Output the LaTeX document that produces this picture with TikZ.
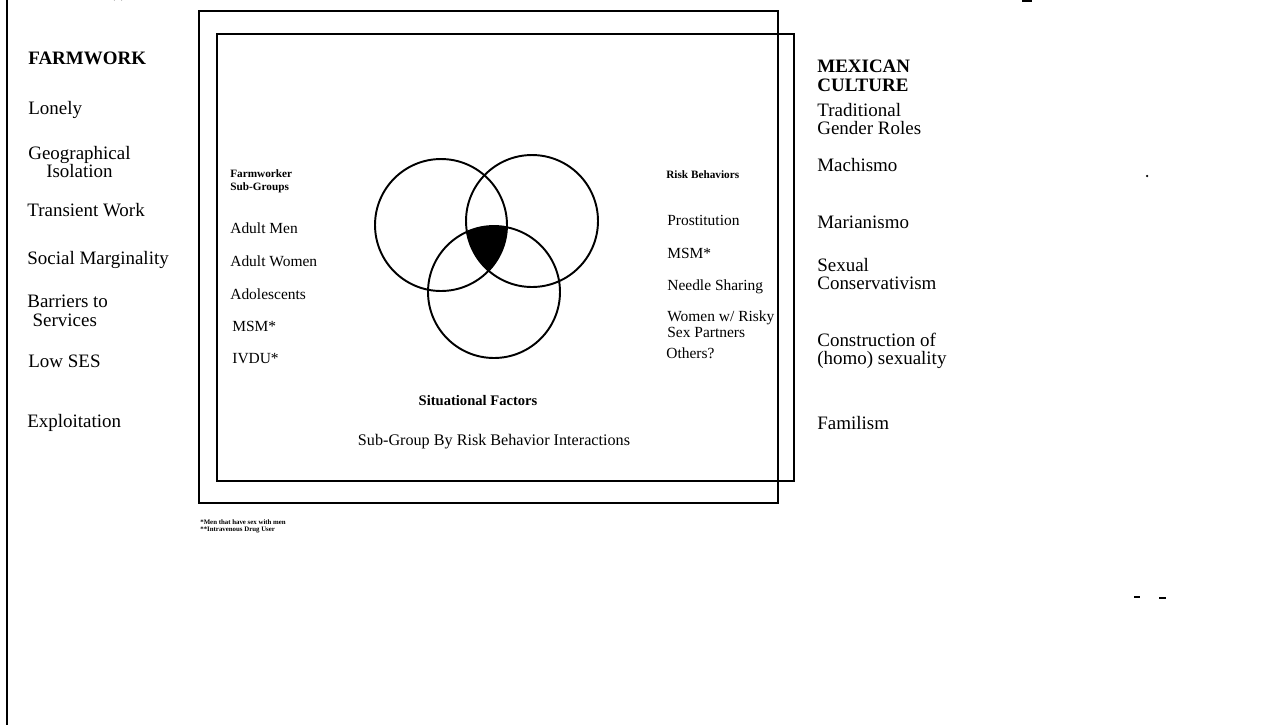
\documentclass[tikz,border=0pt]{standalone}
\usepackage{fontspec}
\setmainfont{Liberation Serif}
\begin{document}
\begin{tikzpicture}[x=0.02cm,y=-0.02cm,
  frame/.style={line width=1.3pt},
  venn/.style={line width=1.1pt},
  col/.style={anchor=west,inner sep=0pt,align=left,font=\fontsize{10.8}{10.6}\selectfont},
  colb/.style={col,font=\fontsize{10.8}{10.6}\selectfont\bfseries},
  itm/.style={anchor=west,inner sep=0pt,align=left,font=\fontsize{8.8}{8.8}\selectfont},
  hdr/.style={anchor=west,inner sep=0pt,align=left,font=\fontsize{6.4}{7.4}\selectfont\bfseries},
  fn/.style={anchor=west,inner sep=0pt,align=left,font=\fontsize{3.9}{4.6}\selectfont\bfseries}]
\useasboundingbox (0,0) rectangle (1270,725);
% left border line
\draw[line width=1.6pt] (7,0) -- (7,725);
% boxes
\draw[frame] (199,11) rectangle (778,503);
\draw[frame] (217,34) rectangle (794,481);
% Venn
\coordinate (cA) at (441,225);
\coordinate (cB) at (532,221);
\coordinate (cC) at (494,292);
\begin{scope}
  \clip (cA) circle (1.32cm);
  \clip (cB) circle (1.32cm);
  \fill (cC) circle (1.32cm);
\end{scope}
\draw[venn] (cA) circle (1.32cm);
\draw[venn] (cB) circle (1.32cm);
\draw[venn] (cC) circle (1.32cm);
% left column
\node[colb] (farm) at (28,58) {FARMWORK};
\node[col] (l1) at (28,110) {Lonely};
\node[col,align=center] (l2) at (28,162) {Geographical\\Isolation};
\node[col] (l3) at (27,210) {Transient Work};
\node[col] (l4) at (27,260) {Social Marginality};
\node[col] (l5) at (27,311) {Barriers to\\\hspace*{3pt}Services};
\node[col] (l6) at (28,361) {Low SES};
\node[col] (l7) at (27,423) {Exploitation};
% right column
\node[colb] (mex) at (817,76) {MEXICAN\\CULTURE};
\node[col] (r1) at (817,119) {Traditional\\Gender Roles};
\node[col] (r2) at (817,165) {Machismo};
\node[col] (r3) at (817,222) {Marianismo};
\node[col] (r4) at (817,274) {Sexual\\Conservativism};
\node[col] (r5) at (817,351) {Construction of\\(homo) sexuality};
\node[col] (r6) at (817,423) {Familism};
% inner left
\node[hdr] (fw) at (230,181) {Farmworker\\Sub-Groups};
\node[itm] (g1) at (230,228) {Adult Men};
\node[itm] (g2) at (230,261) {Adult Women};
\node[itm] (g3) at (230,294) {Adolescents};
\node[itm] (g4) at (232,326) {MSM*};
\node[itm] (g5) at (232,359) {IVDU*};
% inner right
\node[hdr] (rb) at (666,175) {Risk Behaviors};
\node[itm] (b1) at (667,220) {Prostitution};
\node[itm] (b2) at (667,253) {MSM*};
\node[itm] (b3) at (667,287) {Needle Sharing};
\node[itm] (b4) at (667,324) {Women w/ Risky\\Sex Partners};
\node[itm] (b5) at (666,353) {Others?};
% center labels
\node[hdr,anchor=center,font=\fontsize{8.3}{9}\selectfont\bfseries] (sf) at (478,401) {Situational Factors};
\node[itm,anchor=center,font=\fontsize{9.2}{9}\selectfont] (sg) at (494,442) {Sub-Group By Risk Behavior Interactions};
% footnotes
\node[fn] (f1) at (200,522) {*Men that have sex with men};
\node[fn] (f2) at (200,530) {**Intravenous Drug User};
% scan specks
\draw[line width=0.8pt] (114,0) arc (180:360:4 and 3);
\fill (1022,0) rectangle (1032,2);
\fill (1147,176) circle (0.025cm);
\fill (1134,596) rectangle (1140,598);
\fill (1159,597) rectangle (1166,599);
\end{tikzpicture}
\end{document}
